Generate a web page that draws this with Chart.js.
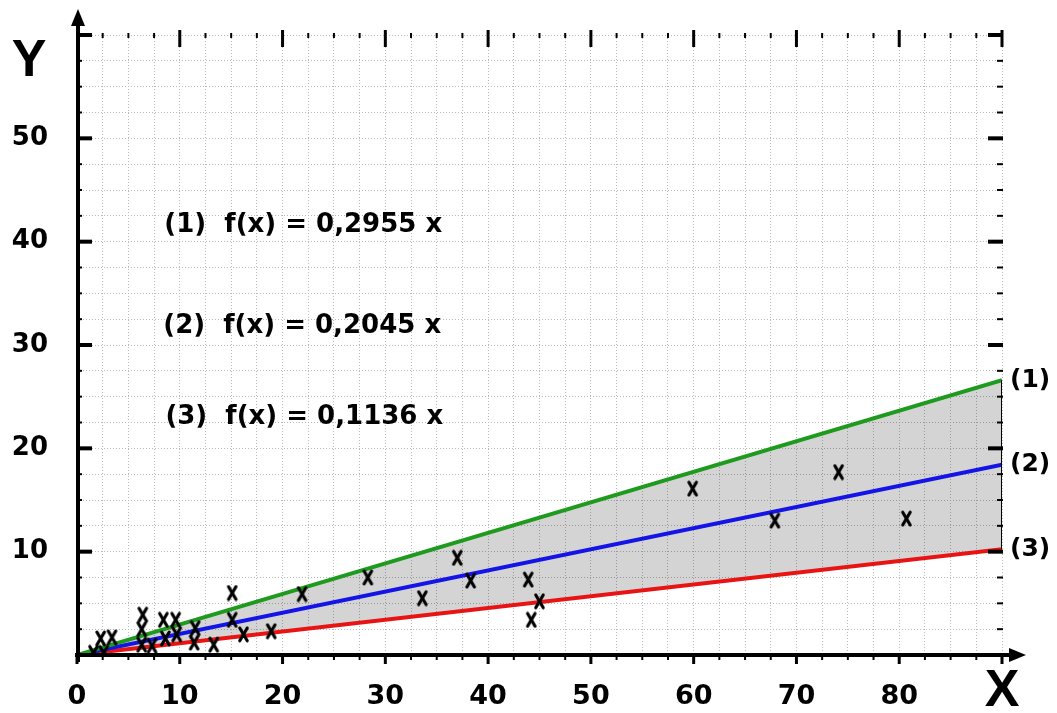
<!DOCTYPE html>
<html><head><meta charset="utf-8">
<script src="https://cdn.jsdelivr.net/npm/chart.js@4/dist/chart.umd.min.js"></script>
<style>html,body{margin:0;padding:0;background:#fff;overflow:hidden}canvas{display:block}</style>
</head><body>
<canvas id="c" width="1057" height="713"></canvas>
<script>
// ---- data ----
const slopes = [0.2955, 0.2045, 0.1136];
const lineNames = ['(1)', '(2)', '(3)'];
const equations = ['(1)  f(x) = 0,2955 x', '(2)  f(x) = 0,2045 x', '(3)  f(x) = 0,1136 x'];
const xRange = [0, 90];
const yRange = [0, 60];
const xTickLabels = [0, 10, 20, 30, 40, 50, 60, 70, 80];
const yTickLabels = [10, 20, 30, 40, 50];
const pointsX = [1.6, 2.6, 2.3, 3.4, 6.3, 6.3, 6.4, 7.3, 8.4, 8.6, 9.6, 9.7, 11.4, 11.5, 13.3, 15.1, 15.1, 16.2, 18.9, 21.9, 28.3, 33.6, 37.0, 38.3, 43.9, 44.2, 45.0, 59.9, 67.9, 74.1, 80.7];
const pointsY = [0.2, 0.2, 1.6, 1.7, 1.0, 2.5, 3.9, 0.9, 3.4, 1.6, 3.4, 2.0, 1.2, 2.6, 1.0, 6.0, 3.4, 2.0, 2.3, 5.9, 7.5, 5.5, 9.4, 7.2, 7.3, 3.4, 5.2, 16.1, 13.0, 17.7, 13.2];

// ---- styles / layout ----
const lineColors = ['#1e9a1e', '#1414e6', '#e81414'];
const eqAnchor = [{x: 8.5, y: 41.6}, {x: 8.4, y: 31.8}, {x: 8.6, y: 23.0}];
const FONT = 'DejaVu Sans';

const mk = document.createElement('canvas');
mk.width = 13; mk.height = 17;
(function(){
  const g = mk.getContext('2d');
  g.strokeStyle = '#000'; g.lineWidth = 3.2; g.lineCap = 'round';
  g.beginPath(); g.moveTo(2.8, 2.2); g.quadraticCurveTo(6.5, 8.5, 10.2, 14.8); g.stroke();
  g.beginPath(); g.moveTo(10.2, 2.2); g.quadraticCurveTo(6.5, 8.5, 2.8, 14.8); g.stroke();
})();

const lineData = slopes.map(s => [{x: xRange[0], y: s * xRange[0]}, {x: xRange[1], y: s * xRange[1]}]);
const datasets = slopes.map((s, i) => ({
  type: 'line', label: lineNames[i], data: lineData[i],
  borderColor: lineColors[i], borderWidth: 4, pointRadius: 0, order: 2 + i,
  fill: i === 0 ? {target: 2} : false,
  backgroundColor: 'rgba(0,0,0,0.17)'
}));
datasets.push({
  type: 'line', label: 'edge',
  data: [{x: xRange[1], y: slopes[2] * xRange[1]}, {x: xRange[1], y: slopes[0] * xRange[1]}],
  borderColor: '#000', borderWidth: 2, pointRadius: 0, fill: false, order: 1
});
datasets.push({
  type: 'scatter', label: 'data',
  data: pointsX.map((x, i) => ({x, y: pointsY[i]})),
  pointStyle: mk, pointRadius: 6, showLine: false, order: 0
});

function line(ctx, x1, y1, x2, y2) { ctx.beginPath(); ctx.moveTo(x1, y1); ctx.lineTo(x2, y2); ctx.stroke(); }

const decor = {
  id: 'decor',
  afterDatasetsDraw(chart) {
    const {ctx, chartArea: a, scales: {x, y}} = chart;
    const X0 = x.getPixelForValue(0), Y0 = y.getPixelForValue(0);
    ctx.save();
    ctx.strokeStyle = '#000'; ctx.fillStyle = '#000'; ctx.lineCap = 'butt';
    x.ticks.forEach(t => {
      const px = x.getPixelForValue(t.value);
      const major = Math.abs(t.value % 10) < 1e-6;
      ctx.lineWidth = major ? 3 : 2;
      line(ctx, px, Y0, px, Y0 + (major ? 9 : 5));
      if (t.value > 0) line(ctx, px, a.top - (major ? 5 : 2), px, a.top + (major ? 12 : 3));
    });
    y.ticks.forEach(t => {
      const py = y.getPixelForValue(t.value);
      const major = Math.abs(t.value % 10) < 1e-6;
      ctx.lineWidth = major ? 4 : 2;
      if (t.value > 0) {
        line(ctx, X0, py, X0 + (major ? 15 : 5), py);
        line(ctx, a.right + 1, py, a.right + 1 - (major ? 15 : 6), py);
      }
    });
    // y axis with arrow
    ctx.lineWidth = 4;
    line(ctx, X0 + 1, Y0 + 7, X0 + 1, 24);
    ctx.beginPath(); ctx.moveTo(X0 + 1, 9); ctx.lineTo(X0 - 6, 26); ctx.lineTo(X0 + 8, 26); ctx.closePath(); ctx.fill();
    // x axis with arrow
    line(ctx, X0 - 2, Y0, 1012, Y0);
    ctx.beginPath(); ctx.moveTo(1026, Y0); ctx.lineTo(1009, Y0 - 7); ctx.lineTo(1009, Y0 + 7); ctx.closePath(); ctx.fill();
    ctx.restore();
  },
  afterDraw(chart) {
    const {ctx, chartArea: a, scales: {x, y}} = chart;
    ctx.save();
    ctx.fillStyle = '#000';
    ctx.textBaseline = 'middle'; ctx.textAlign = 'left';
    ctx.font = 'bold 26px "' + FONT + '"';
    equations.forEach((e, i) => ctx.fillText(e, x.getPixelForValue(eqAnchor[i].x), y.getPixelForValue(eqAnchor[i].y)));
    ctx.font = 'bold 25px "' + FONT + '"';
    lineNames.forEach((n, i) => ctx.fillText(n, a.right + 8, y.getPixelForValue(slopes[i] * xRange[1])));
    ctx.textAlign = 'center';
    ctx.font = 'bold 52px "Liberation Sans"';
    ctx.fillText('Y', 29, 62);
    ctx.fillText('X', 1002, 692);
    ctx.restore();
  }
};

new Chart(document.getElementById('c'), {
  data: {datasets},
  options: {
    responsive: false, animation: false, devicePixelRatio: 1,
    layout: {padding: {top: 35, right: 55, left: 0, bottom: 0}},
    plugins: {legend: {display: false}, tooltip: {enabled: false}, filler: {drawTime: 'beforeDatasetsDraw'}},
    scales: {
      x: {
        type: 'linear', min: xRange[0], max: xRange[1],
        afterFit: s => { s.height = 58; s.paddingLeft = 0; s.paddingRight = 0; },
        grid: {color: '#b8b8b8', lineWidth: 1, drawTicks: false},
        border: {display: false, dash: [1, 2]},
        ticks: {
          stepSize: 2.5, autoSkip: false, maxRotation: 0, maxTicksLimit: 100, padding: 26,
          color: '#000', font: {family: FONT, weight: 'bold', size: 27},
          callback: v => xTickLabels.includes(v) ? String(v) : ''
        }
      },
      y: {
        type: 'linear', min: yRange[0], max: yRange[1],
        afterFit: s => { s.width = 77; s.paddingTop = 0; s.paddingBottom = 0; },
        grid: {color: '#b8b8b8', lineWidth: 1, drawTicks: false},
        border: {display: false, dash: [1, 2]},
        ticks: {
          stepSize: 2.5, autoSkip: false, maxTicksLimit: 100, padding: 29,
          color: '#000', font: {family: FONT, weight: 'bold', size: 26},
          callback: v => yTickLabels.includes(v) ? String(v) : ''
        }
      }
    }
  },
  plugins: [decor]
});
</script>
</body></html>
